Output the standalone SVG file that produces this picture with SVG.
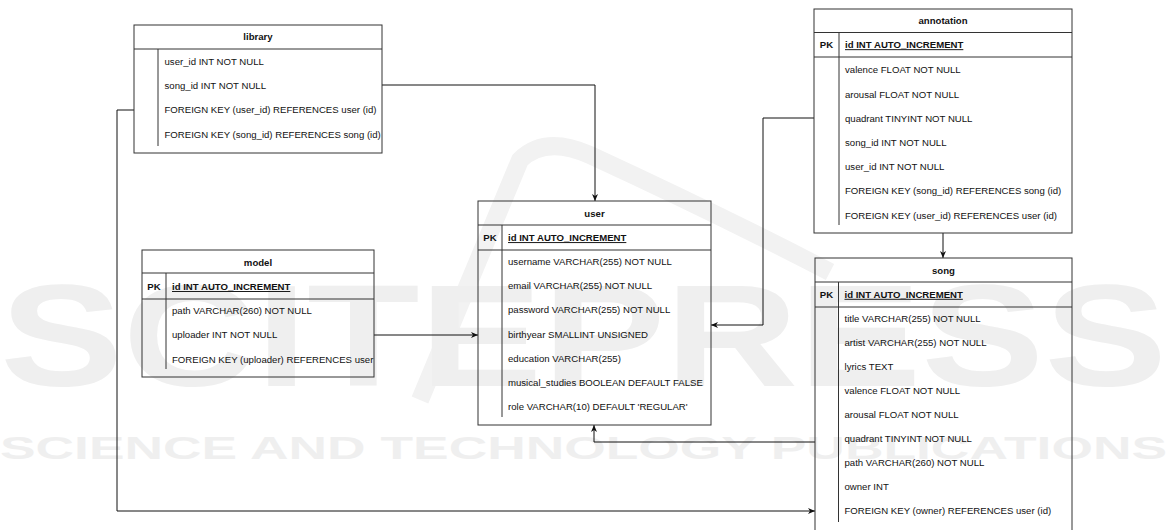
<svg xmlns="http://www.w3.org/2000/svg" width="1167" height="530" viewBox="0 0 1167 530">
<style>
.wm{font-family:"Liberation Sans",Arial,sans-serif;font-weight:bold;fill:#efefef}
.box{fill:none;stroke:#333;stroke-width:1}
.ln{stroke:#333;stroke-width:1;fill:none}
.t{font-family:"Liberation Sans",Arial,sans-serif;font-size:9.6px;fill:#111}
.b{font-weight:bold}
.u{text-decoration:underline}
.m{text-anchor:middle}
.c{fill:none;stroke:#111;stroke-width:1}
</style>
<defs>
<marker id="arr" markerWidth="8" markerHeight="8" refX="7" refY="4" orient="auto" markerUnits="userSpaceOnUse">
<path d="M0,1 L7,4 L0,7 L2,4 z" fill="#111"/>
</marker>
<clipPath id="clipModel"><rect x="142" y="250" width="232" height="127"/></clipPath>
</defs>
<rect width="1167" height="530" fill="#fff"/>
<g id="watermark">
<path d="M 420 400 L 520 160 Q 545 135 590 155 Q 720 215 830 272" fill="none" stroke="#f2f2f2" stroke-width="18"/>
<text class="wm" x="0" y="386" font-size="144" textLength="1167" lengthAdjust="spacingAndGlyphs">SCITEPRESS</text>
<text class="wm" x="0" y="459" font-size="32" textLength="1167" lengthAdjust="spacingAndGlyphs">SCIENCE AND TECHNOLOGY PUBLICATIONS</text>
</g>
<g id="connectors">
<path class="c" d="M382,85 H595 V201" marker-end="url(#arr)"/>
<path class="c" d="M134,110 H117 V511 H815" marker-end="url(#arr)"/>
<path class="c" d="M374,335 H478" marker-end="url(#arr)"/>
<path class="c" d="M814,118 H763 V325 H711" marker-end="url(#arr)"/>
<path class="c" d="M943,233 V258" marker-end="url(#arr)"/>
<path class="c" d="M815,442 H594 V425" marker-end="url(#arr)"/>
</g>
<g id="library">
<rect class="box" x="134" y="25" width="248" height="128"/>
<line class="ln" x1="134" y1="49" x2="382" y2="49"/>
<line class="ln" x1="158" y1="49" x2="158" y2="146"/>
<text class="t b m" x="258" y="40.4">library</text>
<text class="t" x="164.5" y="64.6">user_id INT NOT NULL</text>
<text class="t" x="164.5" y="89">song_id INT NOT NULL</text>
<text class="t" x="164.5" y="113.4">FOREIGN KEY (user_id) REFERENCES user (id)</text>
<text class="t" x="164.5" y="137.8">FOREIGN KEY (song_id) REFERENCES song (id)</text>
</g>
<g id="model">
<rect class="box" x="142" y="250" width="232" height="127"/>
<line class="ln" x1="142" y1="273" x2="374" y2="273"/>
<line class="ln" x1="142" y1="299" x2="374" y2="299"/>
<line class="ln" x1="166" y1="273" x2="166" y2="369"/>
<text class="t b m" x="258" y="266">model</text>
<text class="t b m" x="154" y="290">PK</text>
<text class="t b u" x="172" y="290">id INT AUTO_INCREMENT</text>
<text class="t" x="172" y="313.9">path VARCHAR(260) NOT NULL</text>
<text class="t" x="172" y="338.4">uploader INT NOT NULL</text>
<text class="t" x="172" y="362.6" clip-path="url(#clipModel)">FOREIGN KEY (uploader) REFERENCES user (id)</text>
</g>
<g id="user">
<rect class="box" x="478" y="201" width="233" height="224"/>
<line class="ln" x1="478" y1="225" x2="711" y2="225"/>
<line class="ln" x1="478" y1="250" x2="711" y2="250"/>
<line class="ln" x1="502" y1="225" x2="502" y2="417"/>
<text class="t b m" x="594.5" y="216.9">user</text>
<text class="t b m" x="490" y="241.1">PK</text>
<text class="t b u" x="508" y="241.1">id INT AUTO_INCREMENT</text>
<text class="t" x="508" y="265.1">username VARCHAR(255) NOT NULL</text>
<text class="t" x="508" y="289.1">email VARCHAR(255) NOT NULL</text>
<text class="t" x="508" y="313.4">password VARCHAR(255) NOT NULL</text>
<text class="t" x="508" y="337.7">birthyear SMALLINT UNSIGNED</text>
<text class="t" x="508" y="361.7">education VARCHAR(255)</text>
<text class="t" x="508" y="385.7">musical_studies BOOLEAN DEFAULT FALSE</text>
<text class="t" x="508" y="409.7">role VARCHAR(10) DEFAULT 'REGULAR'</text>
</g>
<g id="annotation">
<rect class="box" x="814" y="9" width="258" height="224"/>
<line class="ln" x1="814" y1="32.5" x2="1072" y2="32.5"/>
<line class="ln" x1="814" y1="57" x2="1072" y2="57"/>
<line class="ln" x1="839" y1="32.5" x2="839" y2="225"/>
<text class="t b m" x="943" y="24.3">annotation</text>
<text class="t b m" x="826.5" y="48.2">PK</text>
<text class="t b u" x="845" y="48.2">id INT AUTO_INCREMENT</text>
<text class="t" x="845" y="73.4">valence FLOAT NOT NULL</text>
<text class="t" x="845" y="97.6">arousal FLOAT NOT NULL</text>
<text class="t" x="845" y="121.8">quadrant TINYINT NOT NULL</text>
<text class="t" x="845" y="146">song_id INT NOT NULL</text>
<text class="t" x="845" y="170.2">user_id INT NOT NULL</text>
<text class="t" x="845" y="194.4">FOREIGN KEY (song_id) REFERENCES song (id)</text>
<text class="t" x="845" y="218.6">FOREIGN KEY (user_id) REFERENCES user (id)</text>
</g>
<g id="song">
<rect class="box" x="815" y="258" width="257" height="277"/>
<line class="ln" x1="815" y1="282" x2="1072" y2="282"/>
<line class="ln" x1="815" y1="307" x2="1072" y2="307"/>
<line class="ln" x1="838.5" y1="282" x2="838.5" y2="522"/>
<text class="t b m" x="943.5" y="274">song</text>
<text class="t b m" x="826.5" y="297.8">PK</text>
<text class="t b u" x="844.5" y="297.8">id INT AUTO_INCREMENT</text>
<text class="t" x="844.5" y="321.7">title VARCHAR(255) NOT NULL</text>
<text class="t" x="844.5" y="345.8">artist VARCHAR(255) NOT NULL</text>
<text class="t" x="844.5" y="369.8">lyrics TEXT</text>
<text class="t" x="844.5" y="393.9">valence FLOAT NOT NULL</text>
<text class="t" x="844.5" y="417.9">arousal FLOAT NOT NULL</text>
<text class="t" x="844.5" y="442">quadrant TINYINT NOT NULL</text>
<text class="t" x="844.5" y="466">path VARCHAR(260) NOT NULL</text>
<text class="t" x="844.5" y="490.1">owner INT</text>
<text class="t" x="844.5" y="514.1">FOREIGN KEY (owner) REFERENCES user (id)</text>
</g>
</svg>
